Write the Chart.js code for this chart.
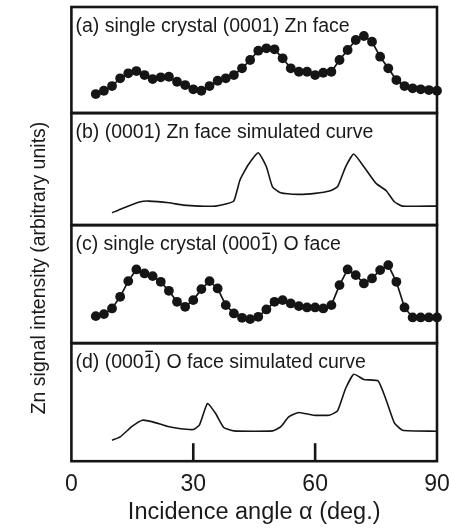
<!DOCTYPE html>
<html>
<head>
<meta charset="utf-8">
<script src="https://cdn.jsdelivr.net/npm/chart.js@4.4.0/dist/chart.umd.min.js"></script>
<style>
  html, body { margin: 0; padding: 0; background: #fff; }
  canvas { display: block; }
</style>
</head>
<body>
<canvas id="myChart" width="449" height="529"></canvas>
<script>
// measured curves, intensity in arbitrary units
const angles = [6, 8, 10, 12, 14, 16, 18, 20, 22, 24, 26, 28, 30, 32, 34, 36, 38, 40, 42, 44, 46, 48,
  50, 52, 54, 56, 58, 60, 62, 64, 66, 68, 70, 72, 74, 76, 78, 80, 82, 84, 86, 88, 90];
const znFace = [19, 22.3, 27, 34.7, 39.7, 42, 38, 34, 35.7, 36.3, 31.3, 28, 23.7, 22.3, 27, 32.3, 34.7,
  38, 44.7, 53, 62.3, 64.7, 63.7, 54.7, 44.7, 41.3, 41.3, 38, 40.3, 41.3, 53, 63, 73, 77, 71.3, 56.3,
  44.7, 33, 27, 24.7, 23.7, 23, 22.3];
const oFace = [27, 29, 34.7, 46.3, 62, 73.7, 69.7, 67, 61.3, 52.3, 41.3, 36.3, 43, 54, 62, 54.7, 38,
  29.7, 25.3, 24, 26.3, 33.7, 41.3, 43, 39.7, 37, 35.7, 35.7, 34.7, 38, 58, 73.7, 68, 59.7, 64.7, 73,
  78, 61.3, 35.7, 25.7, 25.7, 25.7, 25.7];

// simulated curves
const znSimAngles = [10, 12.5, 17, 19, 24, 27.5, 31.5, 35.5, 38, 40, 41.5, 43.5, 46, 48, 49.5, 51.5,
  56, 60, 63.5, 65.5, 67.5, 69.5, 72, 75, 77.5, 79.5, 81.5, 90];
const znSim = [12.3, 16.7, 23.3, 24, 22.3, 20, 19, 19, 21, 24.3, 45, 60, 72.3, 58.3, 38.3, 32.3, 30.7,
  31.7, 34, 38.3, 58.3, 71, 58.3, 41.7, 34.3, 23.3, 19, 19];
const oSimAngles = [10, 12, 15, 17.5, 20, 23.5, 26.5, 30, 31.5, 33.5, 35.5, 37.5, 40, 49.5, 51.5, 53.5,
  56, 59.5, 63.5, 65.5, 67.5, 69.5, 72, 75.5, 77.5, 79.5, 81.5, 90];
const oSim = [21, 24.3, 35, 41, 39.3, 35, 32.7, 31.7, 36, 57.7, 47.7, 33.7, 30.3, 30.3, 34.3, 44.3,
  48.7, 46, 46, 50.3, 72.7, 87, 81.7, 80.3, 61, 38.3, 31, 30];

const xTicks = [0, 30, 60, 90];
const panelLabels = [
  "(a) single crystal (0001) Zn face",
  "(b) (0001) Zn face simulated curve",
  "(c) single crystal (0001\u0304) O face",
  "(d) (0001\u0304) O face simulated curve",
];

const FONT = "'Liberation Sans', Arial, sans-serif";
const INK = "#151515";
const panelIds = ["ya", "yb", "yc", "yd"];

const toXY = (xs, ys) => xs.map((x, i) => ({ x: x, y: ys[i] }));

const dotted = (data, axis) => ({
  data: data,
  yAxisID: axis,
  borderColor: INK,
  borderWidth: 1.7,
  pointRadius: 4.9,
  pointBackgroundColor: INK,
  pointBorderWidth: 0,
  tension: 0,
  clip: false,
});
const plain = (data, axis) => ({
  data: data,
  yAxisID: axis,
  borderColor: INK,
  borderWidth: 1.6,
  pointRadius: 0,
  tension: 0.15,
});

const panelAxis = (max, weight, order) => ({
  type: "linear",
  position: "left",
  stack: "panels",
  stackWeight: weight,
  weight: order,
  min: 0,
  max: max,
  ticks: { display: false },
  grid: { display: false, drawTicks: false },
  border: { display: false },
});

// the combining macron draws badly, so put the bar over the digit by hand
function drawLabel(ctx, text, x, y) {
  const k = text.indexOf("\u0304");
  if (k < 0) {
    ctx.fillText(text, x, y);
    return;
  }
  ctx.fillText(text.slice(0, k) + text.slice(k + 1), x, y);
  const x0 = x + ctx.measureText(text.slice(0, k - 1)).width;
  const w = ctx.measureText(text.charAt(k - 1)).width;
  ctx.fillRect(x0 + w * 0.15, y - 17.5, w * 0.7, 1.4);
}

// frames round every panel, inward ticks on the bottom one, panel captions
const framePlugin = {
  id: "frames",
  afterDatasetsDraw(chart) {
    const ctx = chart.ctx;
    const xs = chart.scales.x;
    ctx.save();
    ctx.strokeStyle = INK;
    ctx.lineWidth = 2.6;
    panelIds.forEach((id, i) => {
      const s = chart.scales[id];
      ctx.strokeRect(xs.left, s.top, xs.right - xs.left, s.bottom - s.top);
      ctx.fillStyle = "#1a1a1a";
      ctx.font = "19.5px " + FONT;
      ctx.textBaseline = "alphabetic";
      drawLabel(ctx, panelLabels[i], xs.left + 4, s.top + 25);
    });
    const last = chart.scales.yd;
    xs.ticks.forEach((t) => {
      if (t.value <= xs.min || t.value >= xs.max) return;
      const px = xs.getPixelForValue(t.value);
      ctx.beginPath();
      ctx.moveTo(px, last.bottom);
      ctx.lineTo(px, last.bottom - 18);
      ctx.stroke();
    });
    ctx.restore();
  },
};

new Chart(document.getElementById("myChart"), {
  type: "line",
  data: {
    datasets: [
      dotted(toXY(angles, znFace), "ya"),
      plain(toXY(znSimAngles, znSim), "yb"),
      dotted(toXY(angles, oFace), "yc"),
      plain(toXY(oSimAngles, oSim), "yd"),
    ],
  },
  options: {
    responsive: false,
    animation: false,
    layout: { padding: { top: 7, left: 0, right: 12, bottom: 0 } },
    scales: {
      x: {
        type: "linear",
        min: 0,
        max: 90,
        afterBuildTicks: (axis) => {
          axis.ticks = xTicks.map((v) => ({ value: v }));
        },
        afterFit: (axis) => {
          axis.paddingRight = 0;
        },
        grid: { display: false, drawTicks: false },
        border: { display: false },
        ticks: {
          padding: 10,
          maxRotation: 0,
          color: "#1a1a1a",
          font: { family: FONT, size: 23 },
        },
        title: {
          display: true,
          text: "Incidence angle \u03b1 (deg.)",
          color: "#1a1a1a",
          font: { family: FONT, size: 23.5 },
          padding: { top: -10, bottom: 2 },
        },
      },
      ya: panelAxis(106, 106, 4),
      yb: panelAxis(112, 112, 3),
      yc: panelAxis(118, 118, 2),
      yd: panelAxis(118, 118, 1),
    },
    plugins: {
      legend: { display: false },
      tooltip: { enabled: false },
      title: {
        display: true,
        position: "left",
        text: "Zn signal intensity (arbitrary units)",
        color: "#1a1a1a",
        font: { family: FONT, size: 19.5, weight: "normal" },
        padding: { top: 28, bottom: 20 },
      },
    },
  },
  plugins: [framePlugin],
});
</script>
</body>
</html>
